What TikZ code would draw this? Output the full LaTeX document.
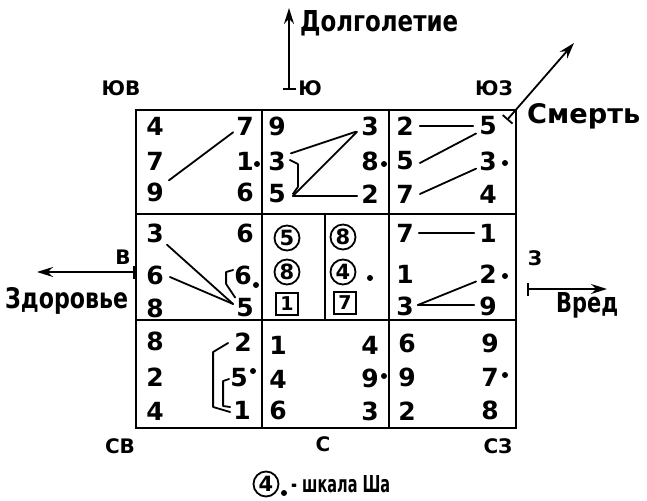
\documentclass[tikz,border=0pt]{standalone}
\usepackage{fontspec}
\setmainfont{DejaVu Sans}
\newfontfamily\heavy{DejaVu Sans}
\usetikzlibrary{arrows.meta,calc}
\newcommand\fitlab[3]{\resizebox{#1}{#2}{\heavy\bfseries #3}}
\begin{document}
\begin{tikzpicture}[x=1pt,y=-1pt,
  dig/.style={font=\heavy\bfseries\fontsize{25}{25}\selectfont,inner sep=0pt},
  lab/.style={font=\heavy\bfseries\fontsize{20}{20}\selectfont,inner sep=0pt},
  big/.style={inner sep=0pt},
  gridline/.style={line width=2.8pt},
  conn/.style={line width=1.8pt,line cap=round,line join=round},
  dotm/.style={circle,fill,inner sep=0pt,minimum size=6pt},
  circd/.style={circle,draw,line width=1.8pt,inner sep=0pt,minimum size=25pt,font=\heavy\bfseries\fontsize{21}{21}\selectfont},
  sqd/.style={rectangle,draw,line width=1.8pt,inner sep=0pt,minimum size=22pt,font=\heavy\bfseries\fontsize{19}{19}\selectfont},
  dirarrow/.style={line width=1.8pt,{Bar[width=13pt,line width=1.8pt]}-{Stealth[length=16pt,width=10pt]}}
]
\fill[white] (0,0) rectangle (647,500);
\useasboundingbox (0,0) rectangle (647,500);

% grid
\draw[gridline] (136,110) rectangle (516,428);
\draw[gridline] (262,110) -- (262,428);
\draw[gridline] (389,110) -- (389,428);
\draw[gridline] (136,214) -- (516,214);
\draw[gridline] (136,320) -- (516,320);
\draw[line width=2pt] (325,214) -- (325,320);

% top-left
\node[dig] (a11) at (155,126) {4};
\node[dig] (a12) at (245,126) {7};
\node[dig] (a21) at (155,161) {7};
\node[dig] (a22) at (245,161) {1};
\node[dig] (a31) at (155,192) {9};
\node[dig] (a32) at (245,192) {6};
\node[dotm] (ad) at (257,164) {};
\draw[conn] ([shift={(5,-2)}]a31.north east) -- ([shift={(-3,-3)}]a12.south west);

% top-middle
\node[dig] (b11) at (277,126) {9};
\node[dig] (b12) at (370,126) {3};
\node[dig] (b21) at (277,161) {3};
\node[dig] (b22) at (370,161) {8};
\node[dig] (b31) at (277,194) {5};
\node[dig] (b32) at (370,194) {2};
\node[dotm] (bd) at (384,164) {};
\draw[conn] ([shift={(5,2)}]b21.north east) -- ([shift={(-5,-4)}]b12.south west);
\draw[conn] ([shift={(7,2)}]b31.east) -- ([shift={(-4,-4)}]b12.south west);
\draw[conn] ([shift={(7,2)}]b31.east) -- ([shift={(-4,2)}]b32.west);
\draw[conn] ([shift={(4,-1)}]b21.east) -- ++(8,4) -- ++(0,23) -- ++(-5,7);

% top-right
\node[dig] (c11) at (405,126) {2};
\node[dig] (c12) at (488,126) {5};
\node[dig] (c21) at (405,161) {5};
\node[dig] (c22) at (488,161) {3};
\node[dig] (c31) at (405,194) {7};
\node[dig] (c32) at (488,194) {4};
\node[dotm] (cd) at (505,163) {};
\draw[conn] ([xshift=6]c11.east) -- ([xshift=-6]c12.west);
\draw[conn] ([shift={(6,2)}]c21.east) -- ([shift={(-3,-2)}]c12.south west);
\draw[conn] ([shift={(6,0)}]c31.east) -- ([shift={(-3,-2)}]c22.south west);

% middle-left
\node[dig] (d11) at (155,233) {3};
\node[dig] (d12) at (245,233) {6};
\node[dig] (d21) at (155,275) {6};
\node[dig] (d22) at (243,275) {6};
\node[dig] (d31) at (155,308) {8};
\node[dig] (d32) at (245,308) {5};
\node[dotm] (dd) at (256,285) {};
\draw[conn] ([shift={(3,2)}]d11.south east) -- ([shift={(-3,-4)}]d32.west);
\draw[conn] ([shift={(6,2)}]d21.east) -- ([shift={(-3,-4)}]d32.west);
\draw[conn] ([shift={(-1,-5)}]d22.west) -- ++(-7,2) -- ++(0,12) -- ([shift={(-1,-1)}]d32.north west);

% center
\node[circd] (k1) at (287,238) {5};
\node[circd] (k2) at (287,272) {8};
\node[sqd] (k3) at (287,304) {1};
\node[circd] (k4) at (343,237) {8};
\node[circd] (k5) at (343,272) {4};
\node[sqd] (k6) at (345,303) {7};
\node[dotm] (kd) at (370,278) {};

% middle-right
\node[dig] (e11) at (405,233) {7};
\node[dig] (e12) at (488,233) {1};
\node[dig] (e21) at (405,274) {1};
\node[dig] (e22) at (488,274) {2};
\node[dig] (e31) at (405,306) {3};
\node[dig] (e32) at (488,306) {9};
\node[dotm] (ed) at (505,276) {};
\draw[conn] ([xshift=5]e11.east) -- ([xshift=-5]e12.west);
\draw[conn] ([shift={(4,-1)}]e31.east) -- ([shift={(-3,-2)}]e22.south west);
\draw[conn] ([shift={(4,-1)}]e31.east) -- ([shift={(-5,-1)}]e32.west);

% bottom-left
\node[dig] (f11) at (155,341) {8};
\node[dig] (f12) at (243,342) {2};
\node[dig] (f21) at (155,377) {2};
\node[dig] (f22) at (239,378) {5};
\node[dig] (f31) at (155,411) {4};
\node[dig] (f32) at (242,410) {1};
\node[dotm] (fd) at (253,371) {};
\draw[conn] ([shift={(-6,1)}]f12.west) -- ++(-15,9) -- ++(0,55) -- ([shift={(-3,2)}]f32.west);
\draw[conn] ([shift={(-1,1)}]f22.west) -- ++(-6,2) -- ++(0,25) -- ([shift={(-3,-3)}]f32.west);

% bottom-middle
\node[dig] (g11) at (278,345) {1};
\node[dig] (g12) at (370,345) {4};
\node[dig] (g21) at (278,379) {4};
\node[dig] (g22) at (370,378) {9};
\node[dig] (g31) at (278,410) {6};
\node[dig] (g32) at (370,411) {3};
\node[dotm] (gd) at (384,376) {};

% bottom-right
\node[dig] (h11) at (407,343) {6};
\node[dig] (h12) at (490,343) {9};
\node[dig] (h21) at (407,377) {9};
\node[dig] (h22) at (490,377) {7};
\node[dig] (h31) at (407,411) {2};
\node[dig] (h32) at (490,410) {8};
\node[dotm] (hd) at (505,375) {};

% compass labels
\node[lab] (sse) at (121,88) {ЮВ};
\node[lab] (ss) at (310,88) {Ю};
\node[lab] (ssw) at (494,88) {ЮЗ};
\node[lab] (ee) at (123,257) {В};
\node[lab] (ww) at (535,258) {З};
\node[lab] (ne) at (120,446) {СВ};
\node[lab] (nn) at (323,444) {С};
\node[lab] (nw) at (498,446) {СЗ};

% arrows
\coordinate (upS) at (289,90);
\coordinate (upE) at (289,8);
\draw[dirarrow] (upS) -- (upE);
\node[big,anchor=base west] (dolg) at (300,32) {\fitlab{158pt}{21pt}{Долголетие}};

\coordinate (smS) at (507,120);
\coordinate (smE) at (574,43);
\draw[dirarrow] (smS) -- (smE);
\node[big,anchor=base west] (smt) at (527,123) {\fitlab{113pt}{20pt}{Смерть}};

\coordinate (zdS) at (135,272);
\coordinate (zdE) at (37,272);
\draw[dirarrow] (zdS) -- (zdE);
\node[big,anchor=base west] (zdt) at (5,308) {\fitlab{123pt}{21pt}{Здоровье}};

\coordinate (vrS) at (527,289);
\coordinate (vrE) at (607,289);
\draw[dirarrow] (vrS) -- (vrE);
\node[big,anchor=base west] (vrt) at (556,312) {\fitlab{62pt}{20pt}{Вред}};

% legend
\node[circd] (lg) at (266,484) {4};
\node[dotm] (lgd) at (284,493) {};
\node[big,anchor=base west] (lgt) at (291,492) {\fitlab{99pt}{17pt}{- шкала Ша}};
\end{tikzpicture}
\end{document}
